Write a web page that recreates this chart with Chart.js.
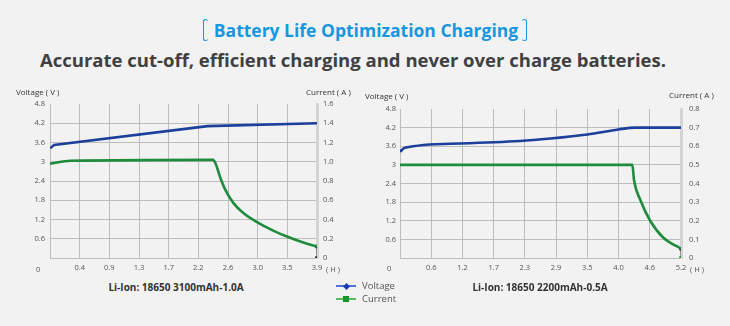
<!DOCTYPE html>
<html>
<head>
<meta charset="utf-8">
<script src="https://cdn.jsdelivr.net/npm/chart.js@4.4.1/dist/chart.umd.min.js"></script>
<style>
  body { margin: 0; background: #f2f2f2; font-family: "Open Sans", sans-serif; }
  #page { position: relative; width: 730px; height: 326px; overflow: hidden; }
  #page canvas { position: absolute; }
  .t { position: absolute; white-space: nowrap; line-height: 12px; }

  #title { left: 0; width: 730px; top: 17px; text-align: center; color: #1797e0;
           font-weight: 700; font-size: 17.5px; line-height: 26px; }
  .br { display: inline-block; width: 4px; height: 20px; border: 1.6px solid #1797e0;
        vertical-align: -4px; border-radius: 3px; }
  .br.l { border-right: none; margin-right: 6px; }
  .br.r { border-left: none; margin-left: 4px; }
  #sub { left: -12px; width: 730px; top: 48px; text-align: center; color: #404040;
         font-weight: 700; font-size: 18.5px; line-height: 24px; }

  .axt { font-size: 8px; color: #333; }
  .unit { font-size: 7.5px; color: #555; }
  .cap { font-size: 10px; font-weight: 700; color: #333; transform: translateX(-50%); }

  .leg { font-size: 9.5px; color: #555; padding-left: 26px; }
  .leg::before { content: ""; position: absolute; left: 0; top: 5px; width: 20px; height: 2px; }
  .leg::after { content: ""; position: absolute; left: 7px; top: 3px; width: 6px; height: 6px; }
  .leg.v::before { background: #4f73d9; }
  .leg.v::after { background: #1b3fb3; transform: rotate(45deg); left: 7.5px; top: 3.5px; width: 5px; height: 5px; }
  .leg.c::before { background: #5dbb63; }
  .leg.c::after { background: #14952a; }
</style>
</head>
<body>
<div id="page">
  <div id="title" class="t"><span class="br l"></span>Battery Life Optimization Charging<span class="br r"></span></div>
  <div id="sub" class="t">Accurate cut-off, efficient charging and never over charge batteries.</div>

  <canvas id="left" width="365" height="200" style="left:0;top:80px"></canvas>
  <canvas id="right" width="365" height="200" style="left:365px;top:85px"></canvas>

  <div class="t axt" style="left:16px;top:86px">Voltage ( V )</div>
  <div class="t axt" style="left:306px;top:86px">Current ( A )</div>
  <div class="t unit" style="left:36px;top:263px">0</div>
  <div class="t unit" style="left:326px;top:263px">( H )</div>

  <div class="t axt" style="left:365px;top:90px">Voltage ( V )</div>
  <div class="t axt" style="left:669px;top:89px">Current ( A )</div>
  <div class="t unit" style="left:387px;top:262px">0</div>
  <div class="t unit" style="left:690px;top:263px">( H )</div>

  <div class="t cap" style="left:176px;top:281px">Li-Ion: 18650 3100mAh-1.0A</div>
  <div class="t cap" style="left:540px;top:281px">Li-Ion: 18650 2200mAh-0.5A</div>

  <div class="t leg v" style="left:336px;top:280px">Voltage</div>
  <div class="t leg c" style="left:336px;top:293px">Current</div>
</div>

<script>
// 18650 3100mAh, 1.0A charge
const leftHourMax    = 3.9;
const leftHourLabels = ['0.4', '0.9', '1.3', '1.7', '2.2', '2.6', '3.0', '3.5', '3.9'];
const leftVoltHours  = [0, 0.06, 2.3, 3.9];
const leftVoltage    = [3.42, 3.52, 4.11, 4.2];
const leftCurHours   = [0, 0.3, 2.38, 2.42, 2.48, 2.56, 2.68, 2.82, 3.03, 3.26, 3.47, 3.7, 3.9];
const leftCurrent    = [0.98, 1.01, 1.02, 0.98, 0.85, 0.71, 0.57, 0.47, 0.37, 0.285, 0.22, 0.16, 0.12];
const leftCurMax     = 1.6;
const leftCurStep    = 0.2;

// 18650 2200mAh, 0.5A charge
const rightHourMax    = 5.2;
const rightHourLabels = ['0.6', '1.2', '1.7', '2.3', '2.9', '3.5', '4.0', '4.6', '5.2'];
const rightVoltHours  = [0, 0.09, 1.11, 2.22, 2.78, 3.47, 4.04, 4.35, 5.2];
const rightVoltage    = [3.42, 3.55, 3.69, 3.77, 3.85, 3.98, 4.14, 4.2, 4.2];
const rightCurHours   = [0, 4.3, 4.33, 4.45, 4.63, 4.87, 5.2];
const rightCurrent    = [0.5, 0.5, 0.42, 0.31, 0.2, 0.11, 0.05];
const rightCurMax     = 0.8;
const rightCurStep    = 0.1;

const voltMax  = 4.8;
const voltStep = 0.6;

const BLUE  = '#1c3f9c';
const GREEN = '#1f8c3c';
const GRID  = '#bdbdbd';
const TICK  = { family: 'Open Sans', size: 7.5 };

function pts(xs, ys) {
  return xs.map((x, i) => ({ x, y: ys[i] }));
}

function drawPanel(id, p) {
  const curPts = pts(p.curHours, p.current);
  const last   = curPts[curPts.length - 1];
  const n      = p.hourLabels.length;

  new Chart(document.getElementById(id), {
    type: 'line',
    data: {
      datasets: [
        {
          data: pts(p.voltHours, p.voltage),
          yAxisID: 'y',
          borderColor: BLUE,
          borderWidth: 2.6,
          pointRadius: 0,
          tension: 0,
          cubicInterpolationMode: p.voltSmooth ? 'monotone' : 'default',
        },
        {
          data: curPts,
          yAxisID: 'y2',
          borderColor: GREEN,
          borderWidth: 2.6,
          pointRadius: 0,
          cubicInterpolationMode: 'monotone',
        },
        {
          // end-of-charge stub down to zero
          data: [last, { x: last.x, y: 0 }],
          yAxisID: 'y2',
          borderColor: '#8a8a8a',
          borderWidth: 1,
          pointRadius: 2.5,
          pointStyle: 'rect',
          pointBorderWidth: 0,
          pointBackgroundColor: ['#222', p.endColor],
        },
      ],
    },
    options: {
      responsive: false,
      animation: false,
      devicePixelRatio: 1,
      layout: { padding: { top: p.top, left: 0, right: 0, bottom: 0 } },
      plugins: { legend: { display: false }, tooltip: { enabled: false } },
      scales: {
        x: {
          type: 'linear',
          min: 0,
          max: p.hourMax,
          afterBuildTicks: (s) => {
            s.ticks = [0, ...p.hourLabels.map((_, i) => (i + 1) * p.hourMax / n)]
              .map((value) => ({ value }));
          },
          afterFit: (s) => { s.height = p.xH; },
          ticks: {
            autoSkip: false, maxRotation: 0, padding: 5,
            color: '#555', font: TICK,
            callback: (v, i) => (i === 0 ? '' : p.hourLabels[i - 1]),
          },
          grid: {
            drawTicks: false,
            color: (c) => (c.index === n ? 'transparent' : GRID),
          },
          border: { color: GRID },
        },
        y: {
          position: 'left',
          min: 0,
          max: voltMax,
          afterFit: (s) => { s.width = p.yW; },
          ticks: {
            stepSize: voltStep, padding: p.yPad,
            color: '#555', font: TICK,
            callback: (v) => (v === 0 ? '' : String(Math.round(v * 10) / 10)),
          },
          grid: {
            drawTicks: false,
            color: (c) => (c.tick && c.tick.value > voltMax - 0.01 ? 'transparent' : GRID),
          },
          border: { color: GRID },
        },
        y2: {
          position: 'right',
          min: 0,
          max: p.curMax,
          afterFit: (s) => { s.width = p.y2W; },
          ticks: {
            stepSize: p.curStep, padding: p.y2Pad,
            color: '#555', font: TICK,
            callback: (v) => (v === 0 ? '0' : v.toFixed(1)),
          },
          grid: { drawOnChartArea: false, drawTicks: false },
          border: { color: '#d4d4d4', width: 3 },
        },
      },
    },
  });
}

drawPanel('left', {
  hourMax: leftHourMax, hourLabels: leftHourLabels,
  voltHours: leftVoltHours, voltage: leftVoltage, voltSmooth: false,
  curHours: leftCurHours, current: leftCurrent,
  curMax: leftCurMax, curStep: leftCurStep,
  endColor: '#222',
  top: 24, xH: 22, yW: 50, y2W: 48, yPad: 5, y2Pad: 6,
});

drawPanel('right', {
  hourMax: rightHourMax, hourLabels: rightHourLabels,
  voltHours: rightVoltHours, voltage: rightVoltage, voltSmooth: true,
  curHours: rightCurHours, current: rightCurrent,
  curMax: rightCurMax, curStep: rightCurStep,
  endColor: '#14952a',
  top: 24, xH: 27, yW: 35, y2W: 49, yPad: 4, y2Pad: 8,
});
</script>
</body>
</html>
